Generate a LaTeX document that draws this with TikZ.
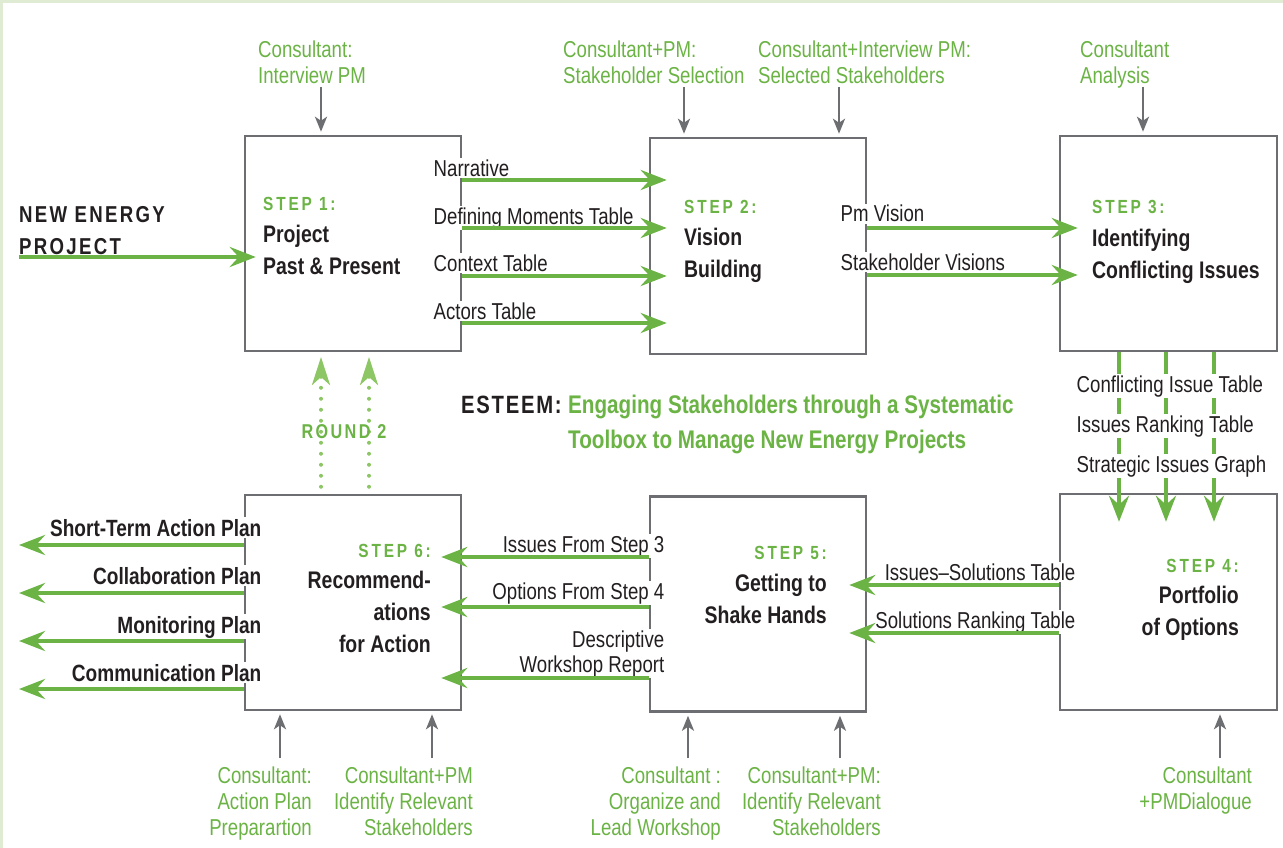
\documentclass[tikz,border=0pt]{standalone}
\usepackage{fontspec}
\setmainfont{Liberation Sans}[FakeStretch=0.81]
\usetikzlibrary{arrows.meta,calc}
\definecolor{grn}{HTML}{6AB344}
\definecolor{lgrn}{HTML}{8DC665}
\definecolor{gry}{HTML}{6D6E71}
\definecolor{ink}{HTML}{231F20}
\definecolor{framec}{HTML}{DFEBD3}
\tikzset{
  box/.style={draw=gry, line width=2.5pt, minimum width=216pt, minimum height=215pt, inner sep=0pt},
  garrow/.style={draw=grn, line width=4.5pt, -{Stealth[length=26pt,width=20pt,inset=9pt]}},
  grayarrow/.style={draw=gry, line width=2.5pt, -{Stealth[length=15pt,width=12pt,inset=4pt]}},
  dotarrow/.style={draw=lgrn, line width=4pt, dash pattern=on 0pt off 11pt, line cap=round, -{Stealth[length=28pt,width=18pt,inset=8pt]}},
  lbl/.style={font=\fontsize{23}{26}\selectfont, inner sep=0pt, text=ink},
  glbl/.style={font=\fontsize{23}{26}\selectfont, inner sep=0pt, text=grn},
  wlbl/.style={lbl, fill=white, inner sep=1.5pt},
  blbl/.style={font=\fontsize{23.5}{26}\selectfont\bfseries, inner sep=1.5pt, fill=white, text=ink},
  steplbl/.style={font=\fontsize{19}{22}\selectfont\bfseries\addfontfeatures{LetterSpace=15}, inner sep=0pt, text=grn},
  titlelbl/.style={font=\fontsize{24}{32}\selectfont\bfseries, inner sep=0pt, text=ink},
}
\begin{document}
\begin{tikzpicture}[x=1pt,y=-1pt]
\useasboundingbox (0,0) rectangle (1283,848);
\fill[framec] (0,0) rectangle (1283,3);
\fill[framec] (0,0) rectangle (3,848);

% boxes
\node[box] (b1) at (353,243.5) {};
\node[box, minimum height=216pt] (b2) at (758,246) {};
\node[box, minimum width=217pt] (b3) at (1168.5,243.5) {};
\node[box, minimum width=217pt, minimum height=216pt] (b4) at (1168.5,602) {};
\node[box] (b5) at (758,604) {};
\node[box] (b6) at (353,602.5) {};

% top labels (anchor base = last line)
\node[glbl, anchor=base west, align=left] (t1) at (258,84) {Consultant:\\Interview PM};
\node[glbl, anchor=base west, align=left] (t2) at (563,84) {Consultant+PM:\\Stakeholder Selection};
\node[glbl, anchor=base west, align=left] (t3) at (758,84) {Consultant+Interview PM:\\Selected Stakeholders};
\node[glbl, anchor=base west, align=left] (t4) at (1080,84) {Consultant\\Analysis};
\coordinate (ca1) at (321,87);
\coordinate (ca2) at (684,87);
\coordinate (ca3) at (839,87);
\coordinate (ca4) at (1143,87);
\draw[grayarrow, shorten >=3pt] (ca1) -- (ca1 |- b1.north);
\draw[grayarrow, shorten >=3pt] (ca2) -- (ca2 |- b2.north);
\draw[grayarrow, shorten >=3pt] (ca3) -- (ca3 |- b2.north);
\draw[grayarrow, shorten >=3pt] (ca4) -- (ca4 |- b3.north);

% new energy project
\node[font=\fontsize{23}{32}\selectfont\bfseries\addfontfeatures{LetterSpace=10}, inner sep=0pt, text=ink, anchor=base west, align=left] (nep) at (19,254) {NEW ENERGY\\PROJECT};
\coordinate (nepstart) at (19,257);
\draw[garrow] (nepstart) -- ($(b1.west |- nepstart)+(12,0)$);

% step texts
\node[steplbl, anchor=base west] (s1) at (263,210) {STEP 1:};
\node[titlelbl, anchor=base west, align=left] (s1t) at (263,274) {Project\\Past \& Present};
\node[steplbl, anchor=base west] (s2) at (684,213) {STEP 2:};
\node[titlelbl, anchor=base west, align=left] (s2t) at (684,277) {Vision\\Building};
\node[steplbl, anchor=base west] (s3) at (1092,213) {STEP 3:};
\node[titlelbl, anchor=base west, align=left] (s3t) at (1092,278) {Identifying\\Conflicting Issues};
\node[steplbl, anchor=base east] (s4) at (1239,572) {STEP 4:};
\node[titlelbl, anchor=base east, align=right] (s4t) at (1239,635) {Portfolio\\of Options};
\node[steplbl, anchor=base east] (s5) at (827,559) {STEP 5:};
\node[titlelbl, anchor=base east, align=right] (s5t) at (827,623) {Getting to\\Shake Hands};
\node[steplbl, anchor=base east] (s6) at (431,557) {STEP 6:};
\node[titlelbl, anchor=base east, align=right] (s6t) at (431,652) {Recommend-\\ations\\for Action};

% step1 -> step2
\node[wlbl, anchor=base west] (o11) at (432,176) {Narrative};
\node[wlbl, anchor=base west] (o12) at (432,224) {Defining Moments Table};
\node[wlbl, anchor=base west] (o13) at (432,271) {Context Table};
\node[wlbl, anchor=base west] (o14) at (432,319) {Actors Table};
\foreach \yy in {180,228,276,323}{
  \draw[garrow] (b1.east |- 0,\yy) -- ($(b2.west |- 0,\yy)+(18,0)$);
}

% step2 -> step3
\node[wlbl, anchor=base west] (o21) at (839,222) {Pm Vision};
\node[wlbl, anchor=base west] (o22) at (839,270) {Stakeholder Visions};
\foreach \yy in {228,275}{
  \draw[garrow] (b2.east |- 0,\yy) -- ($(b3.west |- 0,\yy)+(19,0)$);
}

% step3 -> step4
\foreach \xx in {1119,1166,1214}{
  \draw[garrow] (\xx,0 |- b3.south) -- ($(\xx,0 |- b4.north)+(0,29)$);
}
\node[wlbl, anchor=base west] (o31) at (1075,392) {Conflicting Issue Table};
\node[wlbl, anchor=base west] (o32) at (1075,432) {Issues Ranking Table};
\node[wlbl, anchor=base west] (o33) at (1075,472) {Strategic Issues Graph};

% step4 -> step5
\node[wlbl, anchor=base east] (o41) at (1077,580) {Issues–Solutions Table};
\node[wlbl, anchor=base east] (o42) at (1077,628) {Solutions Ranking Table};
\foreach \yy in {585,633}{
  \draw[garrow] (b4.west |- 0,\yy) -- ($(b5.east |- 0,\yy)+(-18,0)$);
}

% step5 -> step6
\node[wlbl, anchor=base east] (o51) at (666,552) {Issues From Step 3};
\node[wlbl, anchor=base east] (o52) at (666,599) {Options From Step 4};
\node[wlbl, anchor=base east, align=right, font=\fontsize{23}{25}\selectfont] (o53) at (666,672) {Descriptive\\Workshop Report};
\foreach \yy in {557,607,678}{
  \draw[garrow] (b5.west |- 0,\yy) -- ($(b6.east |- 0,\yy)+(-21,0)$);
}

% step6 outputs
\node[blbl, anchor=base east] (o61) at (263,536) {Short-Term Action Plan};
\node[blbl, anchor=base east] (o62) at (263,584) {Collaboration Plan};
\node[blbl, anchor=base east] (o63) at (263,633) {Monitoring Plan};
\node[blbl, anchor=base east] (o64) at (263,681) {Communication Plan};
\foreach \yy in {545,593,641,689}{
  \draw[garrow] (b6.west |- 0,\yy) -- (19,\yy);
}

% round 2
\draw[dotarrow] (321,0 |- b6.north) ++(0,-7) -- (321,357);
\draw[dotarrow] (369,0 |- b6.north) ++(0,-7) -- (369,357);
\node[font=\fontsize{20}{22}\selectfont\bfseries\addfontfeatures{LetterSpace=12}, text=grn, inner sep=0pt, anchor=base] (r2) at (344,438) {ROUND 2};

% title
\node[font=\fontsize{25}{36}\selectfont\bfseries\addfontfeatures{LetterSpace=7}, text=ink, inner sep=0pt, anchor=base west] (es) at (461,413) {ESTEEM:};
\node[font=\fontsize{25.5}{35}\selectfont\bfseries, text=grn, inner sep=0pt, anchor=base west, align=left] (est) at (568,448) {Engaging Stakeholders through a Systematic\\Toolbox to Manage New Energy Projects};

% bottom
\coordinate (cb1) at (280,758);
\coordinate (cb2) at (432,758);
\coordinate (cb3) at (688,758);
\coordinate (cb4) at (840,758);
\coordinate (cb5) at (1220,758);
\draw[grayarrow, shorten >=3pt] (cb1) -- (cb1 |- b6.south);
\draw[grayarrow, shorten >=3pt] (cb2) -- (cb2 |- b6.south);
\draw[grayarrow, shorten >=3pt] (cb3) -- (cb3 |- b5.south);
\draw[grayarrow, shorten >=3pt] (cb4) -- (cb4 |- b5.south);
\draw[grayarrow, shorten >=3pt] (cb5) -- (cb5 |- b4.south);
\node[glbl, anchor=base east, align=right] (u1) at (312,835) {Consultant:\\Action Plan\\Preparartion};
\node[glbl, anchor=base east, align=right] (u2) at (473,835) {Consultant+PM\\Identify Relevant\\Stakeholders};
\node[glbl, anchor=base east, align=right] (u3) at (721,835) {Consultant :\\Organize and\\Lead Workshop};
\node[glbl, anchor=base east, align=right] (u4) at (881,835) {Consultant+PM:\\Identify Relevant\\Stakeholders};
\node[glbl, anchor=base east, align=right] (u5) at (1252,809) {Consultant\\+PMDialogue};
\end{tikzpicture}
\end{document}
